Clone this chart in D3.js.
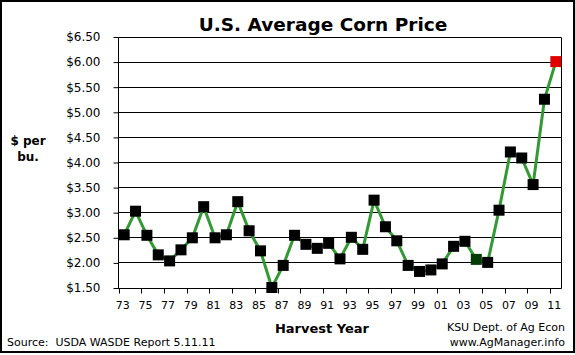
<!DOCTYPE html>
<html>
<head>
<meta charset="utf-8">
<script src="https://cdn.jsdelivr.net/npm/d3@7"></script>
<style>
  html, body { margin: 0; padding: 0; background: #fff; }
  svg { display: block; }
  text { font-family: "DejaVu Sans", Verdana, sans-serif; fill: #000; }
</style>
</head>
<body>
<svg id="chart" width="575" height="355"></svg>
<script>
// ---- data ----
const years = [1973,1974,1975,1976,1977,1978,1979,1980,1981,1982,1983,1984,1985,1986,1987,1988,1989,1990,1991,1992,1993,1994,1995,1996,1997,1998,1999,2000,2001,2002,2003,2004,2005,2006,2007,2008,2009,2010,2011];
const prices = [2.55,3.02,2.54,2.15,2.03,2.25,2.49,3.11,2.49,2.55,3.21,2.63,2.23,1.50,1.94,2.54,2.36,2.28,2.38,2.07,2.50,2.26,3.24,2.71,2.43,1.94,1.82,1.85,1.97,2.32,2.42,2.06,2.00,3.04,4.20,4.08,3.55,5.25,6.00];
const xTickYears = [1973,1975,1977,1979,1981,1983,1985,1987,1989,1991,1993,1995,1997,1999,2001,2003,2005,2007,2009,2011];
const xTickLabels = ["73","75","77","79","81","83","85","87","89","91","93","95","97","99","01","03","05","07","09","11"];
const yTicks = [1.5,2.0,2.5,3.0,3.5,4.0,4.5,5.0,5.5,6.0,6.5];
const highlightDark = [2004];
const highlightRed = [2011];

(function () {
const svg = d3.select("#chart");
const W = 575, H = 355;
const pL = 118.5, pR = 561.5, pT = 36.5, pB = 287.5;

// outer border
svg.append("rect").attr("x", 1).attr("y", 1).attr("width", W - 2).attr("height", 351)
  .attr("fill", "#fff").attr("stroke", "#000").attr("stroke-width", 2);

const x = d3.scaleBand().domain(years).range([pL, pR]);
const y = d3.scaleLinear().domain([1.5, 6.5]).range([pB, pT]);
const cx = d => x(d) + x.bandwidth() / 2;

// gridlines
svg.append("g").selectAll("line").data(yTicks).join("line")
  .attr("x1", pL).attr("x2", pR)
  .attr("y1", d => Math.round(y(d)) + 0.5).attr("y2", d => Math.round(y(d)) + 0.5)
  .attr("stroke", "#000").attr("stroke-width", 1);

// right frame
svg.append("line").attr("x1", pR).attr("x2", pR)
  .attr("y1", Math.round(y(6.5)) + 0.5).attr("y2", Math.round(y(1.5)) + 0.5)
  .attr("stroke", "#000").attr("stroke-width", 1);

// y axis
const yAxis = d3.axisLeft(y).tickValues(yTicks).tickSize(5).tickPadding(13)
  .tickFormat(d3.format("$.2f"));
const gy = svg.append("g").attr("transform", `translate(${pL},0.5)`).call(yAxis);
gy.select(".domain").remove();
gy.selectAll(".tick line").attr("stroke", "#000");
gy.selectAll(".tick text").attr("font-family", "DejaVu Sans").attr("font-size", 12).attr("fill", "#000");
svg.append("line").attr("x1", pL).attr("x2", pL)
  .attr("y1", Math.round(y(6.5)) + 0.5).attr("y2", Math.round(y(1.5)) + 1)
  .attr("stroke", "#000").attr("stroke-width", 1);

// x ticks (at band boundaries every 2 years)
const xb = Math.round(y(1.5)) + 0.5;
svg.append("g").selectAll("line").data(xTickYears).join("line")
  .attr("x1", d => Math.round(x(d)) + 0.5).attr("x2", d => Math.round(x(d)) + 0.5)
  .attr("y1", xb).attr("y2", xb + 5)
  .attr("stroke", "#000");
svg.append("g").selectAll("text").data(xTickYears).join("text")
  .attr("x", d => cx(d) - 1.5).attr("y", 309)
  .attr("text-anchor", "middle").attr("font-size", 11)
  .text((d, i) => xTickLabels[i]);

// line
const line = d3.line().x((d, i) => cx(years[i])).y(d => y(d));
svg.append("path").datum(prices).attr("d", line)
  .attr("fill", "none").attr("stroke", "#339933").attr("stroke-width", 3)
  .attr("stroke-linejoin", "miter");

// markers
const ms = 11;
svg.append("g").selectAll("rect").data(years).join("rect")
  .attr("x", d => cx(d) - ms / 2).attr("y", (d, i) => y(prices[i]) - ms / 2)
  .attr("width", ms).attr("height", ms)
  .attr("fill", d => highlightRed.includes(d) ? "#e00000" : (highlightDark.includes(d) ? "#063a06" : "#000"));

// titles
svg.append("text").attr("x", 323).attr("y", 31).attr("text-anchor", "middle")
  .attr("font-size", 18.5).attr("font-weight", "bold").text("U.S. Average Corn Price");
svg.append("text").attr("x", 28).attr("y", 145).attr("text-anchor", "middle")
  .attr("font-size", 12).attr("font-weight", "bold").text("$ per");
svg.append("text").attr("x", 28).attr("y", 161).attr("text-anchor", "middle")
  .attr("font-size", 12).attr("font-weight", "bold").text("bu.");
svg.append("text").attr("x", 322).attr("y", 333).attr("text-anchor", "middle")
  .attr("font-size", 13).attr("font-weight", "bold").text("Harvest Year");
svg.append("text").attr("x", 7).attr("y", 346).attr("font-size", 11)
  .style("white-space", "pre").text("Source:  USDA WASDE Report 5.11.11");
svg.append("text").attr("x", 565).attr("y", 331).attr("text-anchor", "end")
  .attr("font-size", 11).text("KSU Dept. of Ag Econ");
svg.append("text").attr("x", 565).attr("y", 346).attr("text-anchor", "end")
  .attr("font-size", 11).text("www.AgManager.info");
})();
</script>
</body>
</html>
